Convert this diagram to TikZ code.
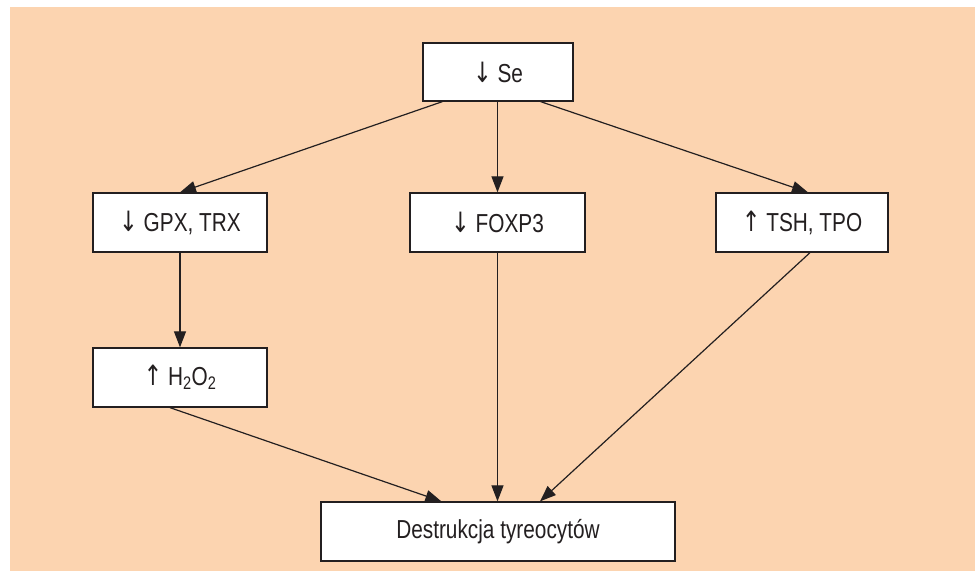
\documentclass[tikz,border=0pt]{standalone}
\usepackage{fontspec}
\setmainfont{Liberation Sans}[FakeStretch=0.8]
\newfontfamily\arrowfont{DejaVu Sans}[FakeStretch=0.8]
\usetikzlibrary{arrows.meta}
\definecolor{bgpeach}{HTML}{FCD4B0}
\definecolor{ink}{HTML}{231F20}
\newcommand{\dnarr}{{\arrowfont\fontsize{28}{30}\selectfont ↓}}
\newcommand{\uparr}{{\arrowfont\fontsize{28}{30}\selectfont ↑}}
\tikzset{
  box/.style={draw=ink, line width=1.3pt, fill=white, minimum height=59pt, inner sep=0pt, font=\fontsize{26}{30}\selectfont, text=ink},
  arr/.style={draw=ink, line width=1.2pt, -{Triangle[length=16pt,width=12pt]}}
}
\begin{document}
\begin{tikzpicture}[x=1pt,y=-1pt]
\useasboundingbox (0,0) rectangle (975,571);
\fill[bgpeach] (10,7) rectangle (975,571);
\node[box, minimum width=150pt, minimum height=58pt] (se) at (498,72) {\dnarr\ Se};
\node[box, minimum width=174pt] (gpx) at (180,222.5) {\dnarr\ GPX, TRX};
\node[box, minimum width=175pt] (foxp) at (497.5,222.5) {\dnarr\ FOXP3};
\node[box, minimum width=172pt] (tsh) at (802,222.5) {\uparr\ TSH, TPO};
\node[box, minimum width=174pt] (hoo) at (180,377.5) {\uparr\ H\textsubscript{2}O\textsubscript{2}};
\node[box, minimum width=354pt] (dest) at (498,531.5) {Destrukcja tyreocytów};
\draw[arr] ([xshift=20pt]se.south west) -- (gpx.north);
\draw[arr] (se.south -| foxp.north) -- (foxp.north);
\draw[arr] ([xshift=-33pt]se.south east) -- ([xshift=6pt]tsh.north);
\draw[arr] (gpx.south) -- (hoo.north);
\draw[arr] ([xshift=-10pt]hoo.south) -- ([xshift=121pt]dest.north west);
\draw[arr] (foxp.south) -- (foxp.south |- dest.north);
\draw[arr] ([xshift=8pt]tsh.south) -- ([xshift=42pt]dest.north);
\end{tikzpicture}
\end{document}
